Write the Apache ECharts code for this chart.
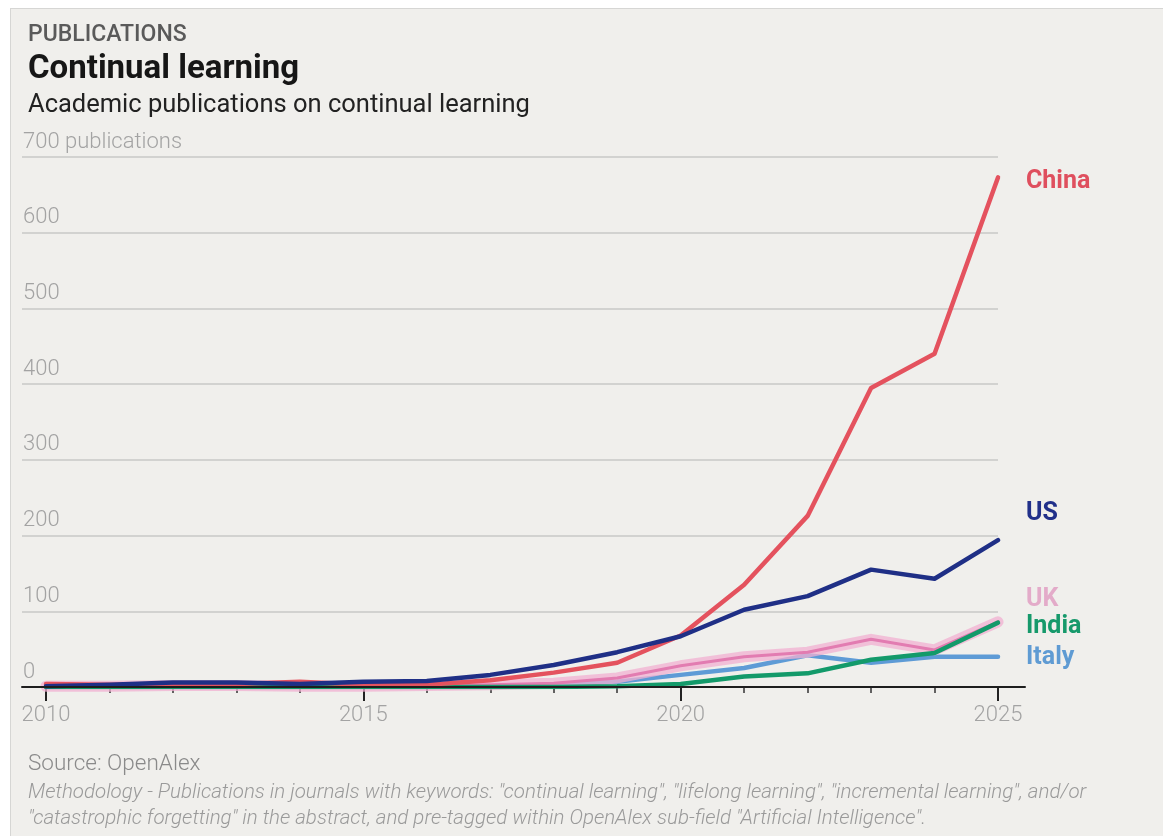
<!DOCTYPE html>
<html>
<head>
<meta charset="utf-8">
<script src="https://cdn.jsdelivr.net/npm/echarts@6/dist/echarts.min.js"></script>
<style>
  html, body { margin: 0; padding: 0; background: #ffffff; }
  #frame { position: absolute; left: 10px; top: 8px; width: 1170px; height: 840px;
           background: #f0efec; border: 1.5px solid #d6d6d4; box-sizing: border-box; }
  #chart { position: absolute; left: 0; top: 0; width: 1163px; height: 836px; }
</style>
</head>
<body>
<div id="frame"></div>
<div id="chart"></div>
<script>
// ---- data ----
const years = [2010, 2011, 2012, 2013, 2014, 2015, 2016, 2017, 2018, 2019, 2020, 2021, 2022, 2023, 2024, 2025];
const china = [4, 3, 4, 4, 7, 3, 3, 9, 19, 32, 68, 135, 226, 395, 440, 673];
const us    = [1, 3, 6, 6, 4, 7, 8, 16, 29, 46, 67, 102, 120, 155, 143, 194];
const uk    = [1, 1, 2, 2, 1, 1, 2, 3, 5, 12, 28, 40, 46, 63, 49, 86];
const india = [0, 0, 0, 0, 0, 0, 0, 0, 0, 1, 4, 14, 18, 36, 45, 85];
const italy = [0, 0, 0, 0, 0, 0, 1, 1, 3, 7, 16, 25, 42, 32, 40, 40];
const majorYears = [2010, 2015, 2020, 2025];
const yTicks = [0, 100, 200, 300, 400, 500, 600, 700];
const yUnit = 'publications';

const FONT = 'Roboto';
const pair = arr => years.map((y, i) => [y, arr[i]]);

function lineSeries(name, arr, color, width, z, label) {
  const s = {
    name, type: 'line', xAxisIndex: 0, yAxisIndex: 0,
    data: pair(arr), showSymbol: false, symbol: 'none', z,
    lineStyle: { color, width, cap: 'round', join: 'round' },
    emphasis: { disabled: true }, silent: true
  };
  if (label) {
    s.endLabel = {
      show: true, formatter: label.text, color: label.color,
      fontFamily: FONT, fontWeight: 'bold', fontSize: 25,
      distance: 28, offset: [0, label.dy], align: 'left', verticalAlign: 'middle'
    };
  }
  return s;
}

const chart = echarts.init(document.getElementById('chart'), null, { renderer: 'canvas' });
chart.setOption({
  animation: false,
  backgroundColor: 'transparent',
  title: [
    { text: 'PUBLICATIONS', left: 23, top: 19,
      textStyle: { fontFamily: FONT, fontWeight: 500, fontSize: 23, color: '#5a5a5a' } },
    { text: 'Continual learning', left: 23, top: 48,
      textStyle: { fontFamily: FONT, fontWeight: 'bold', fontSize: 33, color: '#161616' } },
    { text: 'Academic publications on continual learning', left: 23, top: 88,
      textStyle: { fontFamily: FONT, fontWeight: 'normal', fontSize: 25.5, color: '#222222' } },
    { text: 'Source: OpenAlex', left: 23, top: 748,
      textStyle: { fontFamily: FONT, fontWeight: 300, fontSize: 22.5, color: '#8a8a8a' } },
    { text: 'Methodology - Publications in journals with keywords: "continual learning", "lifelong learning", "incremental learning", and/or',
      left: 23, top: 778,
      textStyle: { fontFamily: FONT, fontWeight: 300, fontStyle: 'italic', fontSize: 20.5, color: '#9a9a9a' } },
    { text: '"catastrophic forgetting" in the abstract, and pre-tagged within OpenAlex sub-field "Artificial Intelligence".',
      left: 23, top: 804,
      textStyle: { fontFamily: FONT, fontWeight: 300, fontStyle: 'italic', fontSize: 20.5, color: '#9a9a9a' } }
  ],
  grid: [
    { left: 22, right: 165, top: 157, bottom: 149, containLabel: false },
    { left: 22, right: 138, top: 157, bottom: 149, containLabel: false }
  ],
  xAxis: [
    { // data axis with minor ticks
      type: 'value', gridIndex: 0, min: 2009.622, max: 2025,
      axisLine: { show: false }, splitLine: { show: false },
      axisTick: { show: true, customValues: years, length: 6, lineStyle: { color: '#333', width: 1.5 } },
      axisLabel: { show: false }
    },
    { // major ticks and labels
      type: 'value', gridIndex: 0, min: 2009.622, max: 2025, position: 'bottom',
      axisLine: { show: false }, splitLine: { show: false },
      axisTick: { show: true, customValues: majorYears, length: 14, lineStyle: { color: '#222', width: 2 } },
      axisLabel: { show: true, customValues: majorYears, margin: 17, fontFamily: FONT, fontWeight: 300,
                   fontSize: 22, color: '#a3a3a3', formatter: v => String(v) }
    },
    { // baseline extended past the last year
      type: 'value', gridIndex: 1, min: 0, max: 1, z: 10,
      axisLine: { show: true, lineStyle: { color: '#1e1e1e', width: 2 } },
      axisTick: { show: false }, axisLabel: { show: false }, splitLine: { show: false }
    }
  ],
  yAxis: [
    { type: 'value', gridIndex: 0, min: 0, max: 700, interval: 100,
      axisLine: { show: false }, axisTick: { show: false },
      splitLine: { show: true, lineStyle: { color: '#c9c9c7', width: 1.5 } },
      axisLabel: { show: true, inside: true, margin: 1, verticalAlign: 'bottom', align: 'left',
                   padding: [0, 0, 4, 0], fontFamily: FONT, fontWeight: 300, fontSize: 22, color: '#a3a3a3',
                   customValues: yTicks,
                   formatter: v => v === 700 ? v + ' ' + yUnit : String(v) }
    },
    { type: 'value', gridIndex: 1, min: 0, max: 1, show: false }
  ],
  series: [
    lineSeries('Italy', italy, '#5e9bd6', 4.5, 2, { text: 'Italy', color: '#5f9bd3', dy: 1 }),
    { name: 'UK glow', type: 'line', xAxisIndex: 0, yAxisIndex: 0, data: pair(uk), showSymbol: false, symbol: 'none',
      z: 3, silent: true, lineStyle: { color: 'rgba(242,176,209,0.75)', width: 11, cap: 'round', join: 'round' } },
    lineSeries('UK', uk, '#e27cb1', 3, 4, { text: 'UK', color: '#e3abc9', dy: -22 }),
    lineSeries('India', india, '#139a6a', 4.5, 5, { text: 'India', color: '#16996b', dy: 4 }),
    lineSeries('China', china, '#e4525e', 4.5, 6, { text: 'China', color: '#df4f5e', dy: 4 }),
    lineSeries('US', us, '#1f2f86', 4.5, 7, { text: 'US', color: '#21308a', dy: -26 })
  ]
});
</script>
</body>
</html>
